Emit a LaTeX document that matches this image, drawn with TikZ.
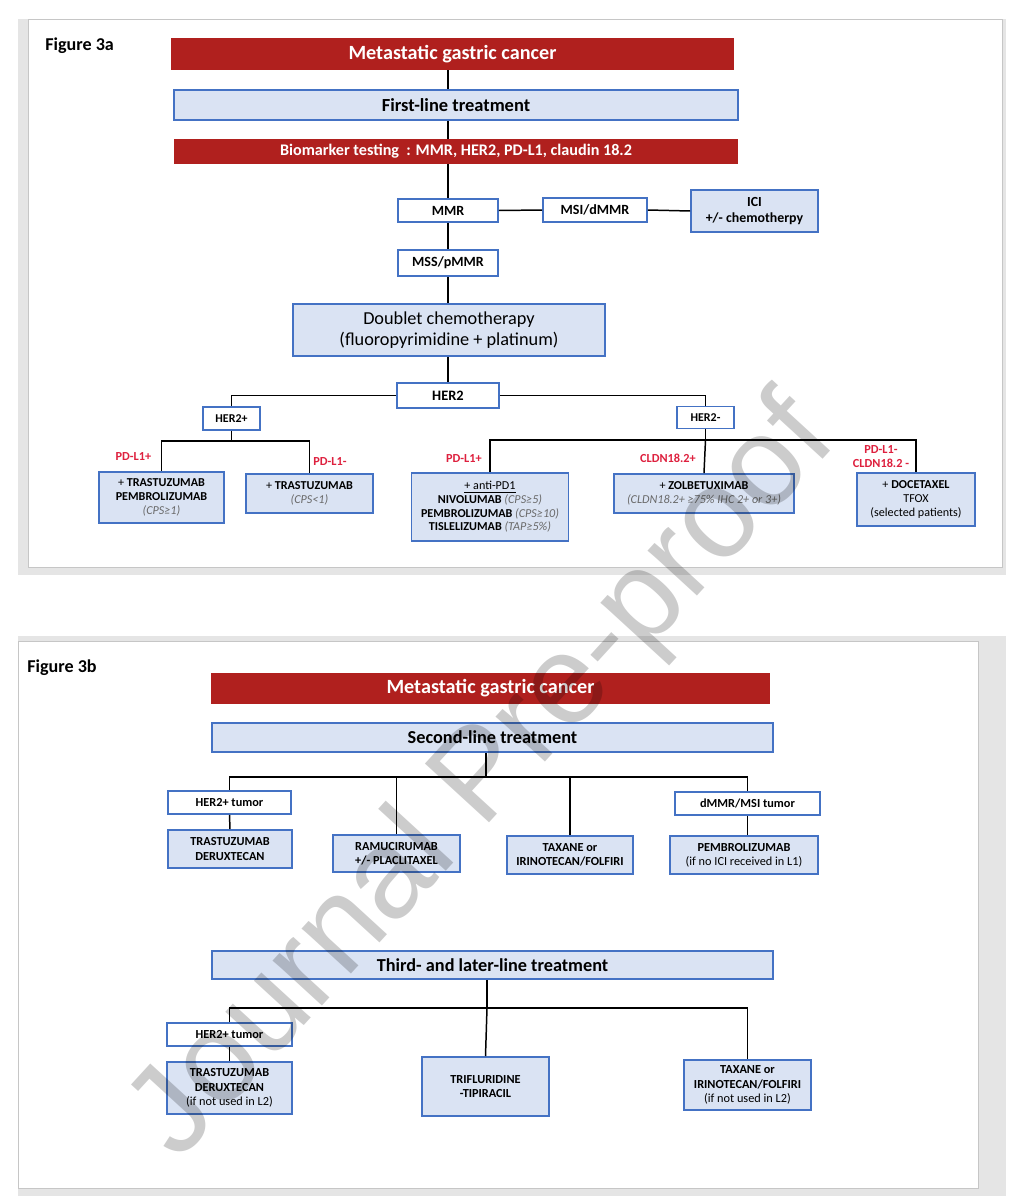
\documentclass[tikz,border=0pt]{standalone}
\usepackage{fontspec}
\setmainfont{Carlito}
\newfontfamily\wmfont{Liberation Sans}

\definecolor{barred}{RGB}{176,32,30}
\definecolor{boxblue}{RGB}{218,227,243}
\definecolor{boxedge}{RGB}{68,114,196}
\definecolor{labred}{RGB}{222,32,62}
\definecolor{notegray}{RGB}{105,105,105}
\definecolor{panelgray}{RGB}{229,229,229}

\tikzset{
  sz/.style 2 args={minimum width=#1*0.02cm,minimum height=#2*0.02cm},
  redbar/.style={fill=barred,text=white,inner sep=0pt},
  bluebox/.style={draw=boxedge,fill=boxblue,line width=1.1pt,inner sep=0pt,align=center},
  whitebox/.style={draw=boxedge,fill=white,line width=1.1pt,inner sep=0pt,align=center},
  redlabel/.style={text=labred,inner sep=0pt,align=center,font=\bfseries\fontsize{7}{8}\selectfont},
  link/.style={line width=0.85pt}
}
\newcommand{\crit}[1]{{\mdseries\itshape\color{notegray}#1}}

\begin{document}
\begin{tikzpicture}[x=0.02cm,y=-0.02cm]
\useasboundingbox (0,0) rectangle (1033,1200);

% panels
\fill[panelgray] (18,19) rectangle (1006,575);
\filldraw[fill=white,draw=gray!45,line width=0.3pt] (28,19) rectangle (1002,567);
\fill[panelgray] (18,636) rectangle (1006,1196);
\filldraw[fill=white,draw=gray!45,line width=0.3pt] (18,641) rectangle (978,1188);

\node[anchor=west,inner sep=0pt,font=\bfseries\fontsize{10.3}{11}\selectfont] (fig3a) at (45,46) {Figure 3a};
\node[anchor=west,inner sep=0pt,font=\bfseries\fontsize{10.3}{11}\selectfont] (fig3b) at (27,668) {Figure 3b};

% ---------- figure 3a ----------
\node[redbar,sz={563}{32},font=\bfseries\fontsize{11.5}{13}\selectfont] (title) at (452.5,54) {Metastatic gastric cancer};
\node[bluebox,sz={564}{30},font=\bfseries\fontsize{10.5}{12}\selectfont] (first) at (456,105) {First-line treatment};
\node[redbar,sz={564}{25},font=\bfseries\fontsize{9.2}{10}\selectfont] (bio) at (456,151.5) {Biomarker testing\ \ : MMR, HER2, PD-L1, claudin 18.2};

\begin{scope}[every node/.style={whitebox,font=\bfseries\fontsize{8}{9}\selectfont}]
    \node[sz={100}{23}] (mmr) at (448,210.5) {MMR};
    \node[sz={104}{24}] (msi) at (595,210) {MSI/dMMR};
    \node[sz={100}{26}] (mss) at (448,263) {MSS/pMMR};
    \node[sz={102}{25},font=\bfseries\fontsize{8.2}{9}\selectfont] (her2) at (448,395.5) {HER2};
    \node[sz={57}{23},font=\bfseries\fontsize{6.8}{8}\selectfont] (her2p) at (231.5,418.5) {HER2+};
    \node[sz={57}{22},font=\bfseries\fontsize{6.8}{8}\selectfont] (her2m) at (705.5,417.5) {HER2-};
\end{scope}

\node[bluebox,sz={127}{42},font=\bfseries\fontsize{7.9}{9.5}\selectfont] (ici) at (754.5,211) {ICI\\+/- chemotherpy};
\node[bluebox,sz={312}{52},font=\fontsize{10.4}{12}\selectfont] (dbl) at (449,330) {Doublet chemotherapy\\(fluoropyrimidine + platinum)};

\begin{scope}[every node/.style={bluebox,font=\bfseries\fontsize{6.9}{7.8}\selectfont}]
    \node[sz={125}{51}] (tp1) at (161.5,497.5) {{\mdseries+} TRASTUZUMAB\\PEMBROLIZUMAB\\\crit{(CPS≥1)}};
    \node[sz={127}{39}] (tp2) at (309.5,493.5) {{\mdseries+} TRASTUZUMAB\\\crit{(CPS<1)}};
    \node[sz={157}{68}] (apd) at (490,507) {\underline{\mdseries + anti-PD1}\\NIVOLUMAB \crit{(CPS≥5)}\\PEMBROLIZUMAB \crit{(CPS≥10)}\\TISLELIZUMAB \crit{(TAP≥5\%)}};
    \node[sz={180}{39}] (zol) at (704,493.5) {{\mdseries+} ZOLBETUXIMAB\\\crit{(CLDN18.2+ ≥75\% IHC 2+ or 3+)}};
    \node[sz={118}{53}] (doc) at (916,499.5) {{\mdseries+} DOCETAXEL\\{\mdseries TFOX}\\{\mdseries(selected patients)}};
\end{scope}

\node[redlabel] (lab1) at (133.5,457) {PD-L1+};
\node[redlabel] (lab2) at (330,462) {PD-L1-};
\node[redlabel] (lab3) at (464,459) {PD-L1+};
\node[redlabel] (lab4) at (668,458) {CLDN18.2+};
\node[redlabel] (lab5) at (881,457) {PD-L1-\\CLDN18.2 -};

\coordinate (j1) at (231.5,441);
\coordinate (j2) at (705.5,440);

\begin{scope}[link]
    \draw (mmr |- title.south) -- (mmr |- first.north);
    \draw (mmr |- first.south) -- (mmr |- bio.north);
    \draw (mmr |- bio.south) -- (mmr.north);
    \draw (mmr.east) -- (msi.west);
    \draw (msi.east) -- (ici.west);
    \draw (mmr.south) -- (mss.north);
    \draw (mss.south) -- (mss.south |- dbl.north);
    \draw (her2 |- dbl.south) -- (her2.north);
    \draw (her2.west) -| (her2p.north);
    \draw (her2.east) -| (her2m.north);
    \draw (her2p.south) -- (j1);
    \draw (j1) -| (tp1.north);
    \draw (j1) -| (tp2.north);
    \draw (her2m.south) -- (j2);
    \draw (j2) -| (apd.north);
    \draw (j2) -- (zol.north);
    \draw (j2) -| (doc.north);
\end{scope}

% ---------- figure 3b ----------
\node[redbar,sz={559}{31},font=\bfseries\fontsize{11.5}{13}\selectfont] (title2) at (490.5,688.5) {Metastatic gastric cancer};
\node[bluebox,sz={561}{29},font=\bfseries\fontsize{10.4}{12}\selectfont] (second) at (492.5,737.5) {Second-line treatment};
\node[bluebox,sz={561}{28},font=\bfseries\fontsize{10.4}{12}\selectfont] (third) at (492.5,965) {Third- and later-line treatment};

\begin{scope}[every node/.style={whitebox,font=\bfseries\fontsize{7}{8}\selectfont}]
    \node[sz={123}{23}] (h2t) at (229.5,802.5) {HER2+ tumor};
    \node[sz={145}{23}] (dmmr) at (747.5,803.5) {dMMR/MSI tumor};
    \node[sz={125}{23}] (h3t) at (229.5,1034.5) {HER2+ tumor};
\end{scope}

\begin{scope}[every node/.style={bluebox,font=\bfseries\fontsize{7}{8.1}\selectfont}]
    \node[sz={124}{38}] (tdx) at (230,849) {TRASTUZUMAB\\DERUXTECAN};
    \node[sz={127}{37}] (ram) at (396.5,853.5) {RAMUCIRUMAB\\+/- PLACLITAXEL};
    \node[sz={126}{38}] (tax) at (570,855) {TAXANE or\\IRINOTECAN/FOLFIRI};
    \node[sz={148}{38}] (pem) at (744,855) {PEMBROLIZUMAB\\{\mdseries(if no ICI received in L1)}};
    \node[sz={125}{52}] (tdx3) at (229.5,1088) {TRASTUZUMAB\\DERUXTECAN\\{\mdseries(if not used in L2)}};
    \node[sz={127}{59}] (tri) at (485.5,1086.5) {TRIFLURIDINE\\-TIPIRACIL};
    \node[sz={127}{50}] (tax3) at (747.5,1085) {TAXANE or\\IRINOTECAN/FOLFIRI\\{\mdseries(if not used in L2)}};
\end{scope}

\coordinate (j3) at (486,777);
\coordinate (j4) at (487,1008);

\begin{scope}[link]
    \draw (j3 |- second.south) -- (j3);
    \draw (j3) -| (h2t.north);
    \draw (j3) -| (ram.north);
    \draw (j3) -| (tax.north);
    \draw (j3) -| (dmmr.north);
    \draw (h2t.south) -- (tdx.north);
    \draw (dmmr.south) -- (dmmr.south |- pem.north);
    \draw (j4 |- third.south) -- (j4);
    \draw (j4) -| (h3t.north);
    \draw (j4) -- (tri.north);
    \draw (j4) -| (tax3.north);
    \draw (h3t.south) -- (tdx3.north);
\end{scope}

% watermark
\node[rotate=47.5,text=black,opacity=0.2,inner sep=0pt,font=\wmfont\fontsize{72}{72}\selectfont] (wm) at (485,780) {Journal Pre-proof};

\end{tikzpicture}
\end{document}
